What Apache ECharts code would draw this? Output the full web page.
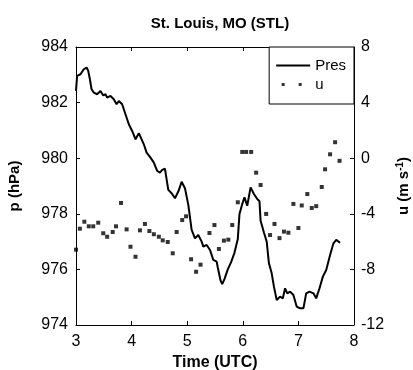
<!DOCTYPE html>
<html><head><meta charset="utf-8">
<script src="https://cdn.jsdelivr.net/npm/echarts@6/dist/echarts.min.js"></script>
<style>html,body{margin:0;padding:0;background:#fff;overflow:hidden;width:413px;height:370px}#c{position:absolute;left:0;top:0;width:413px;height:370px}</style>
</head><body><div id="c"></div>
<script>
const titleText = 'St. Louis, MO (STL)';
const presTime = [3.00,3.02,3.08,3.14,3.19,3.22,3.25,3.28,3.32,3.38,3.44,3.49,3.53,3.56,3.62,3.68,3.73,3.77,3.83,3.89,3.95,4.01,4.07,4.13,4.16,4.22,4.27,4.34,4.40,4.46,4.51,4.55,4.60,4.63,4.66,4.72,4.78,4.84,4.90,4.96,5.02,5.08,5.14,5.20,5.26,5.29,5.35,5.41,5.47,5.53,5.55,5.60,5.63,5.67,5.73,5.79,5.85,5.91,5.94,5.99,6.03,6.08,6.14,6.20,6.26,6.30,6.32,6.38,6.43,6.47,6.52,6.56,6.61,6.67,6.72,6.76,6.80,6.85,6.91,6.97,7.03,7.09,7.14,7.20,7.27,7.32,7.38,7.44,7.50,7.57,7.63,7.68,7.75];
const presValue = [982.42,982.96,983.02,983.20,983.26,983.14,982.84,982.48,982.36,982.30,982.42,982.26,982.30,982.18,982.24,982.12,981.94,982.06,981.94,981.58,981.22,980.98,980.68,980.90,980.92,980.50,980.20,980.02,979.84,979.54,979.48,979.58,979.62,979.24,978.86,978.74,978.56,978.80,979.15,978.92,978.32,977.42,977.12,977.24,977.00,976.82,976.88,976.70,976.34,976.28,976.07,975.60,975.47,975.65,976.00,976.26,976.60,977.09,977.99,978.35,978.59,978.29,978.95,978.71,978.53,978.45,977.75,977.33,977.00,976.22,975.86,975.38,974.90,975.02,974.96,975.32,975.14,975.20,975.08,974.66,974.60,974.60,975.14,975.20,975.14,974.96,975.32,975.74,975.98,976.52,976.94,977.06,976.96];
const uTime = [3.00,3.07,3.15,3.23,3.31,3.40,3.49,3.56,3.66,3.72,3.81,3.91,3.98,4.07,4.15,4.24,4.32,4.40,4.49,4.56,4.65,4.74,4.81,4.91,4.98,5.07,5.16,5.24,5.40,5.49,5.57,5.66,5.74,5.81,5.91,5.99,6.06,6.15,6.24,6.32,6.42,6.49,6.57,6.66,6.74,6.82,6.91,7.00,7.06,7.16,7.24,7.32,7.42,7.48,7.57,7.66,7.74];
const uValue = [-6.58,-5.07,-4.57,-4.90,-4.90,-4.64,-5.40,-5.65,-5.31,-4.90,-3.22,-5.12,-6.37,-7.09,-5.19,-4.73,-5.24,-5.47,-5.65,-5.91,-6.03,-6.84,-5.31,-4.45,-4.18,-7.27,-8.17,-7.66,-5.38,-4.81,-6.53,-5.93,-5.86,-4.81,-3.17,0.45,0.45,0.45,-1.04,-1.93,-4.01,-5.53,-4.73,-5.75,-5.28,-5.36,-3.29,-5.02,-3.40,-2.58,-3.58,-3.45,-2.07,-0.80,0.28,1.15,-0.19];
const xTickMin = 3, xTickMax = 8, xTickStep = 1;
const pTickMin = 974, pTickMax = 984, pTickStep = 2;
const uTickMin = -12, uTickMax = 8, uTickStep = 4;

const FONT = 'Liberation Sans, Arial, sans-serif';
const presData = presTime.map((t, i) => [t, presValue[i]]);
const uData = uTime.map((t, i) => [t, uValue[i]]);

const speck = 'M0,0h0.01v0.01h-0.01z M33.99,13.99h0.01v0.01h-0.01z';
const presIcon = 'path://' + speck + ' M0,6h34v2h-34z';
const uIcon = 'path://' + speck + ' M5.5,5.5h3v3h-3z M22.5,5.5h3v3h-3z';

const chart = echarts.init(document.getElementById('c'), null, {renderer: 'canvas', width: 413, height: 370});
const axisCommon = {
  axisLine: {show: true, onZero: false, lineStyle: {color: '#000', width: 1}},
  axisTick: {show: true, inside: true, length: 4, lineStyle: {color: '#000'}},
  splitLine: {show: false},
  axisLabel: {color: '#000', fontSize: 16, fontFamily: FONT},
  nameTextStyle: {color: '#000', fontSize: 15, fontWeight: 'bold', fontFamily: FONT}
};
chart.setOption({
  animation: false,
  backgroundColor: '#fff',
  title: {
    text: titleText, left: 215, top: 11, textAlign: 'center',
    textStyle: {fontSize: 15, fontWeight: 'bold', color: '#000', fontFamily: FONT}
  },
  grid: {left: 76, right: 59, top: 47, bottom: 45, containLabel: false, outerBoundsMode: 'none'},
  legend: {
    orient: 'vertical', right: 59, top: 47,
    itemWidth: 34, itemHeight: 14, itemGap: 4,
    padding: [11, 8, 12, 7],
    borderColor: '#000', borderWidth: 1, backgroundColor: '#fff',
    textStyle: {color: '#000', fontSize: 15, fontFamily: FONT},
    data: [{name: 'Pres', icon: presIcon}, {name: 'u', icon: uIcon}]
  },
  xAxis: [
    Object.assign({}, axisCommon, {
      type: 'value', min: xTickMin, max: xTickMax, interval: xTickStep,
      position: 'bottom',
      axisLabel: Object.assign({}, axisCommon.axisLabel, {margin: 9}),
      name: 'Time (UTC)', nameLocation: 'middle', nameGap: 30,
      nameTextStyle: Object.assign({}, axisCommon.nameTextStyle, {fontSize: 16})
    }),
    Object.assign({}, axisCommon, {
      type: 'value', min: xTickMin, max: xTickMax, interval: xTickStep,
      position: 'top', axisLabel: {show: false}
    })
  ],
  yAxis: [
    Object.assign({}, axisCommon, {
      type: 'value', min: pTickMin, max: pTickMax, interval: pTickStep,
      position: 'left',
      axisLabel: Object.assign({}, axisCommon.axisLabel, {margin: 8}),
      name: 'p (hPa)', nameLocation: 'middle', nameGap: 54
    }),
    Object.assign({}, axisCommon, {
      type: 'value', min: uTickMin, max: uTickMax, interval: uTickStep,
      position: 'right',
      axisLabel: Object.assign({}, axisCommon.axisLabel, {margin: 7}),
      name: '{a|u (m s}{s|-1}{a|)}', nameLocation: 'middle', nameGap: 32,
      nameTextStyle: {
        color: '#000', fontFamily: FONT,
        rich: {
          a: {fontSize: 15, fontWeight: 'bold', fontFamily: FONT, color: '#000'},
          s: {fontSize: 10, fontWeight: 'bold', fontFamily: FONT, color: '#000', verticalAlign: 'top', padding: [0, 0, 8, 0]}
        }
      }
    })
  ],
  series: [
    {
      name: 'Pres', type: 'line', xAxisIndex: 0, yAxisIndex: 0,
      data: presData, showSymbol: false, symbol: 'none',
      lineStyle: {color: '#000', width: 2}, itemStyle: {color: '#000'}, z: 3
    },
    {
      name: 'u', type: 'scatter', xAxisIndex: 0, yAxisIndex: 1,
      data: uData, symbol: 'rect', symbolSize: 4,
      itemStyle: {color: '#000'}, z: 2
    }
  ]
});
</script></body></html>
